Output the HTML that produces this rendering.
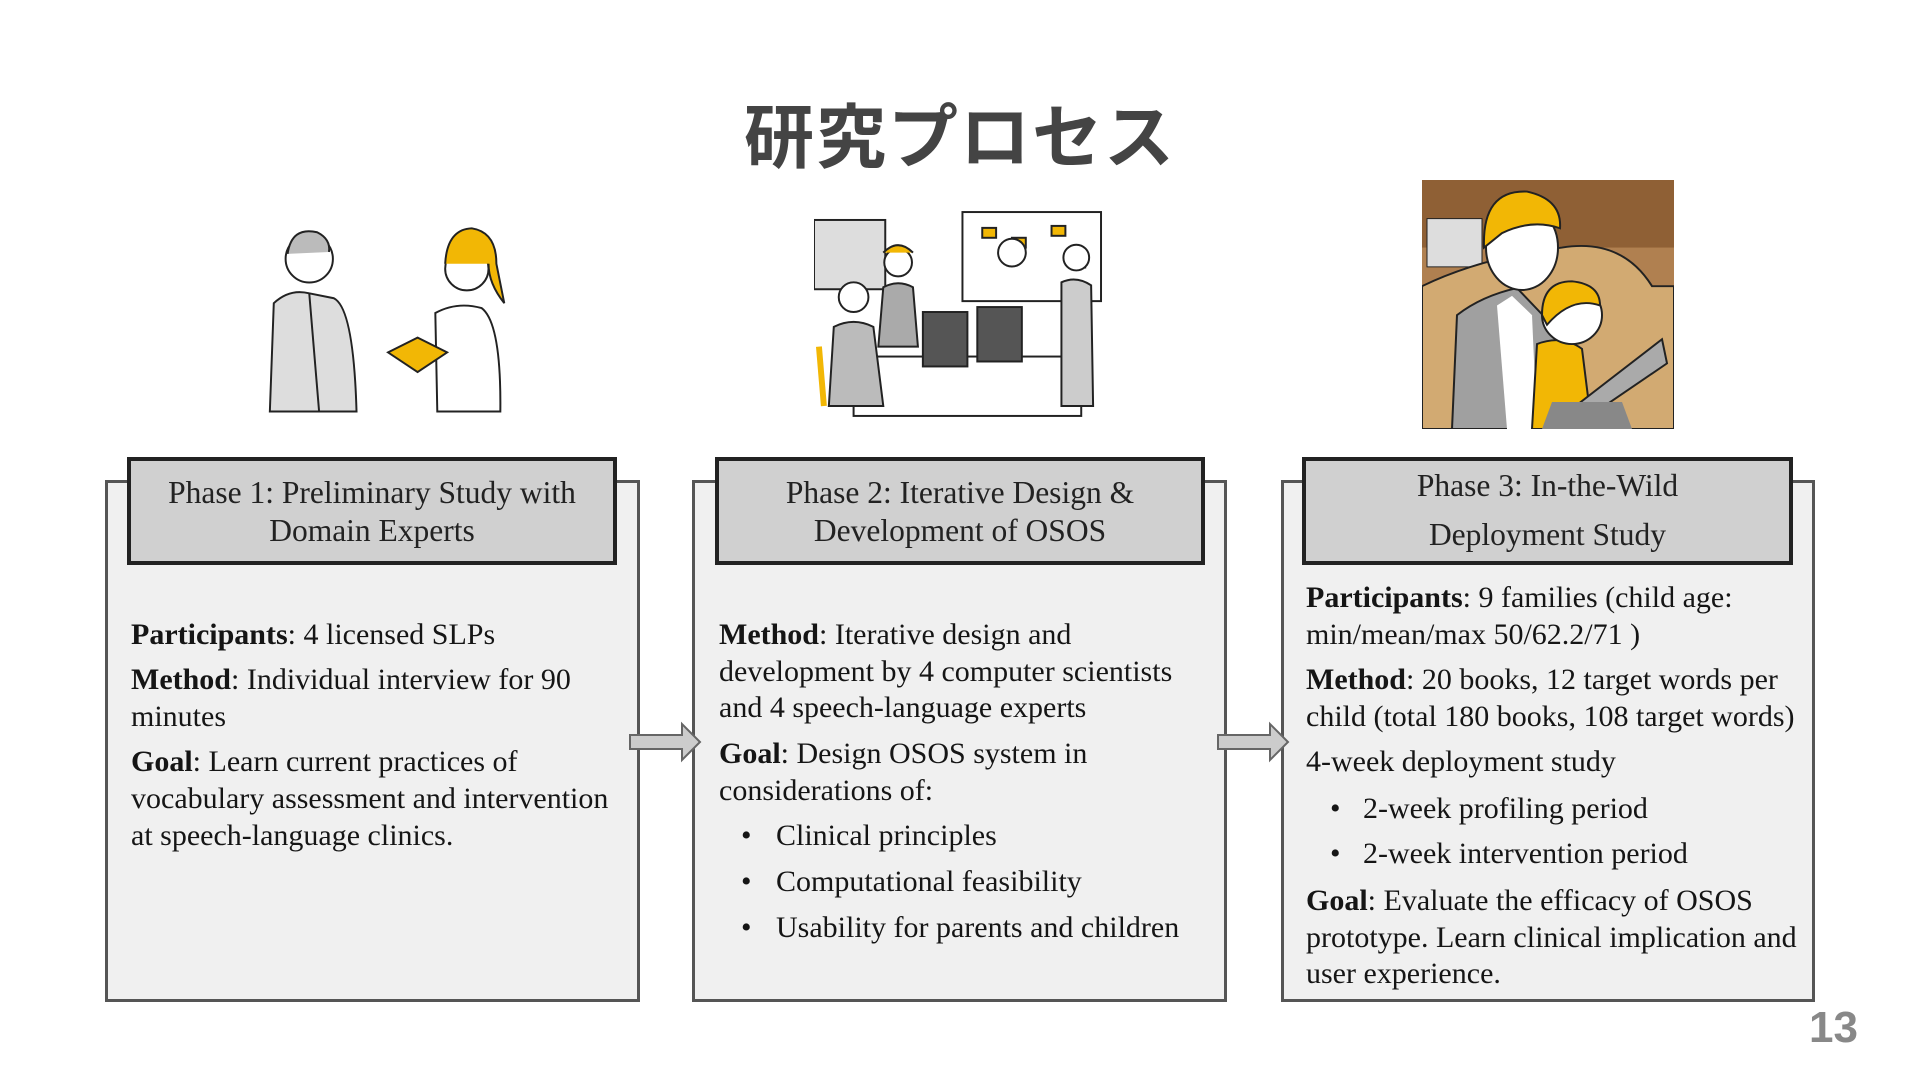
<!DOCTYPE html>
<html><head><meta charset="utf-8"><style>
body{margin:0;width:1920px;height:1080px;background:#fff;position:relative;overflow:hidden;font-family:"Liberation Serif",serif;color:#151515}
.a{position:absolute}
.title{position:absolute;left:0;width:1920px;top:82px;text-align:center;font:bold 70px "Liberation Sans","Noto Sans CJK JP",sans-serif;color:#444;letter-spacing:2px}
.box{position:absolute;background:#f0f0f0;border:3px solid #555;box-sizing:border-box}
.hd{position:absolute;background:#d0d0d0;border:4px solid #222;box-sizing:border-box;text-align:center;font-size:31.5px;line-height:38px;color:#222}
.t{position:absolute;font-size:30px;line-height:34px;white-space:nowrap}
.t b{font-weight:bold}
.num{position:absolute;left:1809px;top:1003px;font:bold 44px "Liberation Sans",sans-serif;color:#888}
</style></head><body>
<div class="title">研究プロセス</div>

<svg class="a" style="left:260px;top:214px" width="262" height="200" viewBox="0 0 266 202">
<g stroke="#222" stroke-width="2" fill="none">
<path d="M10 200 L14 90 Q30 75 50 80 L75 85 Q95 95 98 200 Z" fill="#ddd"/>
<circle cx="50" cy="45" r="24" fill="#fff"/><path d="M28 40 Q32 12 58 18 Q72 25 70 38" fill="#bbb"/>
<path d="M50 80 L60 200" />
<path d="M180 200 L178 100 Q200 88 225 95 Q245 110 244 200 Z" fill="#fff"/>
<circle cx="210" cy="55" r="22" fill="#fff"/><path d="M188 50 Q190 15 215 14 Q240 18 240 50 L248 90 Q232 70 232 50" fill="#f2b705"/>
<path d="M130 140 L160 125 L190 140 L160 160 Z" fill="#f2b705"/>
</g></svg>
<svg class="a" style="left:814px;top:208px" width="289" height="210" viewBox="0 0 292 212">
<g stroke="#222" stroke-width="2">
<rect x="0" y="12" width="72" height="70" fill="#ddd"/>
<rect x="150" y="4" width="140" height="90" fill="#fff"/>
<rect x="170" y="20" width="14" height="10" fill="#f2b705"/><rect x="200" y="30" width="14" height="10" fill="#f2b705"/><rect x="240" y="18" width="14" height="10" fill="#f2b705"/><rect x="260" y="50" width="14" height="10" fill="#f2b705"/>
<rect x="40" y="150" width="230" height="60" fill="#fff"/>
<rect x="110" y="105" width="45" height="55" fill="#555"/><rect x="165" y="100" width="45" height="55" fill="#555"/>
<circle cx="40" cy="90" r="15" fill="#fff"/><path d="M15 200 L20 120 Q40 110 60 120 L70 200Z" fill="#bbb"/>
<circle cx="85" cy="55" r="14" fill="#fff"/><path d="M70 45 Q85 30 100 45" fill="#f2b705"/><path d="M65 140 L70 80 Q85 72 100 80 L105 140Z" fill="#aaa"/>
<circle cx="200" cy="45" r="14" fill="#fff"/><circle cx="265" cy="50" r="13" fill="#fff"/><path d="M250 200 L250 75 Q265 68 280 78 L282 200Z" fill="#ccc"/>
<path d="M10 200 L5 140" stroke="#f2b705" stroke-width="6"/>
</g></svg>
<svg class="a" style="left:1422px;top:180px" width="252" height="249" viewBox="0 0 252 258" preserveAspectRatio="none">
<rect width="252" height="258" fill="#b08050"/>
<rect y="0" width="252" height="70" fill="#8f6035"/>
<rect x="5" y="40" width="55" height="50" fill="#ddd" stroke="#222"/>
<path d="M0 258 L0 110 Q60 80 140 70 Q200 60 230 110 L252 110 L252 258Z" fill="#d2aa72" stroke="#222" stroke-width="2"/>
<path d="M30 258 L35 140 Q60 120 95 112 L130 150 L150 258Z" fill="#a0a0a0" stroke="#222" stroke-width="2"/>
<path d="M75 130 L90 120 L110 140 L115 258 L85 258Z" fill="#fff"/>
<ellipse cx="100" cy="70" rx="36" ry="44" fill="#fff" stroke="#222" stroke-width="2"/>
<path d="M62 70 Q60 10 105 12 Q140 20 138 50 Q110 40 80 55Z" fill="#f2b705" stroke="#222" stroke-width="2"/>
<path d="M110 258 L115 170 Q140 160 160 175 L170 258Z" fill="#f2b705" stroke="#222" stroke-width="2"/>
<circle cx="150" cy="140" r="30" fill="#fff" stroke="#222" stroke-width="2"/>
<path d="M120 140 Q120 105 150 105 Q178 108 178 130 Q150 120 125 150Z" fill="#f2b705" stroke="#222" stroke-width="2"/>
<path d="M140 245 L240 165 L245 190 L160 250Z" fill="#aaa" stroke="#222" stroke-width="2"/>
<path d="M120 258 L130 230 L200 230 L210 258Z" fill="#888"/>
</svg>

<div class="box" style="left:105px;top:480px;width:535px;height:522px"></div>
<div class="box" style="left:692px;top:480px;width:535px;height:522px"></div>
<div class="box" style="left:1281px;top:480px;width:534px;height:522px"></div>

<div class="hd" style="left:127px;top:457px;width:490px;height:108px;padding-top:13px">Phase 1: Preliminary Study with<br>Domain Experts</div>
<div class="hd" style="left:715px;top:457px;width:490px;height:108px;padding-top:13px">Phase 2: Iterative Design &amp;<br>Development of OSOS</div>
<div class="hd" style="left:1302px;top:457px;width:491px;height:108px;padding-top:0px;line-height:49px">Phase 3: In-the-Wild<br>Deployment Study</div>

<svg class="a" style="left:628px;top:721px" width="76" height="42"><path d="M2 14 H54 V3 L72 21 L54 39 V28 H2Z" fill="#ccc" stroke="#666" stroke-width="2"/></svg>
<svg class="a" style="left:1216px;top:721px" width="76" height="42"><path d="M2 14 H54 V3 L72 21 L54 39 V28 H2Z" fill="#ccc" stroke="#666" stroke-width="2"/></svg>

<div class="t" style="left:131px;top:618px"><b>Participants</b>: 4 licensed SLPs</div>
<div class="t" style="left:131px;top:663px"><b>Method</b>: Individual interview for 90</div>
<div class="t" style="left:131px;top:700px">minutes</div>
<div class="t" style="left:131px;top:745px"><b>Goal</b>: Learn current practices of</div>
<div class="t" style="left:131px;top:782px">vocabulary assessment and intervention</div>
<div class="t" style="left:131px;top:819px">at speech-language clinics.</div>

<div class="t" style="left:719px;top:618px"><b>Method</b>: Iterative design and</div>
<div class="t" style="left:719px;top:655px">development by 4 computer scientists</div>
<div class="t" style="left:719px;top:691px">and 4 speech-language experts</div>
<div class="t" style="left:719px;top:737px"><b>Goal</b>: Design OSOS system in</div>
<div class="t" style="left:719px;top:774px">considerations of:</div>
<div class="t" style="left:741px;top:819px">•</div><div class="t" style="left:776px;top:819px">Clinical principles</div>
<div class="t" style="left:741px;top:865px">•</div><div class="t" style="left:776px;top:865px">Computational feasibility</div>
<div class="t" style="left:741px;top:911px">•</div><div class="t" style="left:776px;top:911px">Usability for parents and children</div>

<div class="t" style="left:1306px;top:581px"><b>Participants</b>: 9 families (child age:</div>
<div class="t" style="left:1306px;top:618px">min/mean/max 50/62.2/71 )</div>
<div class="t" style="left:1306px;top:663px"><b>Method</b>: 20 books, 12 target words per</div>
<div class="t" style="left:1306px;top:700px">child (total 180 books, 108 target words)</div>
<div class="t" style="left:1306px;top:745px">4-week deployment study</div>
<div class="t" style="left:1330px;top:792px">•</div><div class="t" style="left:1363px;top:792px">2-week profiling period</div>
<div class="t" style="left:1330px;top:837px">•</div><div class="t" style="left:1363px;top:837px">2-week intervention period</div>
<div class="t" style="left:1306px;top:884px"><b>Goal</b>: Evaluate the efficacy of OSOS</div>
<div class="t" style="left:1306px;top:921px">prototype. Learn clinical implication and</div>
<div class="t" style="left:1306px;top:957px">user experience.</div>

<div class="num">13</div>
</body></html>
